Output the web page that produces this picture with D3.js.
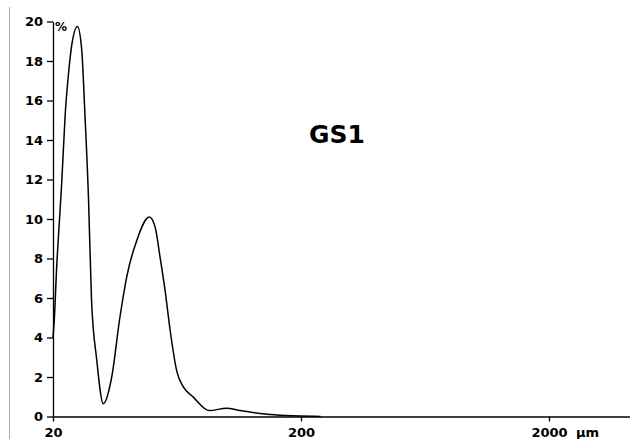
<!DOCTYPE html>
<html>
<head>
<meta charset="utf-8">
<script src="https://cdn.jsdelivr.net/npm/d3@7"></script>
<style>
  body { margin: 0; background: #fff; }
  svg { display: block; }
</style>
</head>
<body>
<div id="chart"></div>
<script>
// particle size (µm) vs volume %
var sizes = [20, 20.24, 20.7, 21.3, 21.7, 22.4, 23.2, 23.8, 25.1, 26.1, 26.9, 27.8, 28.6, 30.0, 31.9,
             34.5, 37.2, 39.7, 43.5, 48.9, 51.6, 54.0, 56.6, 59.3, 63.1, 67.1, 73.6, 85.4, 100.3,
             113.5, 150, 198, 240]
var percents = [4.0, 4.9, 7.6, 10.2, 11.9, 15.3, 17.6, 18.8, 19.75, 18.6, 15.3, 11.1, 5.9, 2.9, 0.65,
                2.0, 5.0, 7.1, 8.9, 10.1, 9.6, 8.1, 6.4, 4.4, 2.3, 1.5, 0.98, 0.3, 0.42,
                0.3, 0.1, 0.03, 0.0]
var xTicks = [20, 200, 2000]
var yTicks = [0, 2, 4, 6, 8, 10, 12, 14, 16, 18, 20]

var width = 630, height = 439
var plotLeft = 53, plotRight = 630, plotTop = 21.5, plotBottom = 416.5
var font = "DejaVu Sans, Verdana, sans-serif"

var svg = d3.select("#chart").append("svg")
            .attr("width", width)
            .attr("height", height)

// grey frame line on the left
svg.append("line")
   .attr("x1", 9.5).attr("x2", 9.5)
   .attr("y1", 7).attr("y2", height)
   .attr("stroke", "#aaa")
   .attr("stroke-width", 1)

// one decade = 248 px
var x = d3.scaleLog()
          .domain([20, 20 * Math.pow(10, (plotRight - plotLeft) / 248)])
          .range([plotLeft, plotRight])

var y = d3.scaleLinear()
          .domain([0, 20])
          .range([plotBottom, plotTop])

var xAxis = svg.append("g")
               .attr("transform", "translate(0," + plotBottom + ")")
               .call(d3.axisBottom(x).tickValues(xTicks).tickFormat(d3.format("d")).tickSize(5).tickSizeOuter(0))
xAxis.select(".domain").attr("stroke", "#000").attr("stroke-width", 1.3)
xAxis.selectAll(".tick line").attr("stroke", "#000").attr("stroke-width", 1.3)
xAxis.selectAll(".tick text")
     .attr("y", 20.5).attr("dy", null)
     .attr("font-family", font).attr("font-weight", "bold").attr("font-size", "13px").attr("fill", "#000")

var yAxis = svg.append("g")
               .attr("transform", "translate(" + plotLeft + ",0)")
               .call(d3.axisLeft(y).tickValues(yTicks).tickSize(6).tickSizeOuter(0))
yAxis.select(".domain").attr("stroke", "#000").attr("stroke-width", 1.3)
yAxis.selectAll(".tick line").attr("stroke", "#000").attr("stroke-width", 1.3)
yAxis.selectAll(".tick text")
     .attr("x", -10)
     .attr("font-family", font).attr("font-weight", "bold").attr("font-size", "13px").attr("fill", "#000")

// unit labels
svg.append("text")
   .attr("x", 55).attr("y", 31)
   .text("%")
   .attr("font-family", font)
   .attr("font-weight", "bold")
   .attr("font-size", "12px")

svg.append("text")
   .attr("x", 576).attr("y", 437)
   .text("µm")
   .attr("font-family", font)
   .attr("font-weight", "bold")
   .attr("font-size", "13px")

svg.append("text")
   .attr("x", 337).attr("y", 142.5)
   .attr("text-anchor", "middle")
   .text("GS1")
   .attr("font-family", font)
   .attr("font-weight", "bold")
   .attr("font-size", "25px")

var line = d3.line()
             .x(function(d) { return x(d[0]) })
             .y(function(d) { return y(d[1]) })
             .curve(d3.curveMonotoneX)

svg.append("path")
   .datum(d3.zip(sizes, percents))
   .attr("d", line)
   .attr("fill", "none")
   .attr("stroke", "#000")
   .attr("stroke-width", 1.5)
</script>
</body>
</html>
